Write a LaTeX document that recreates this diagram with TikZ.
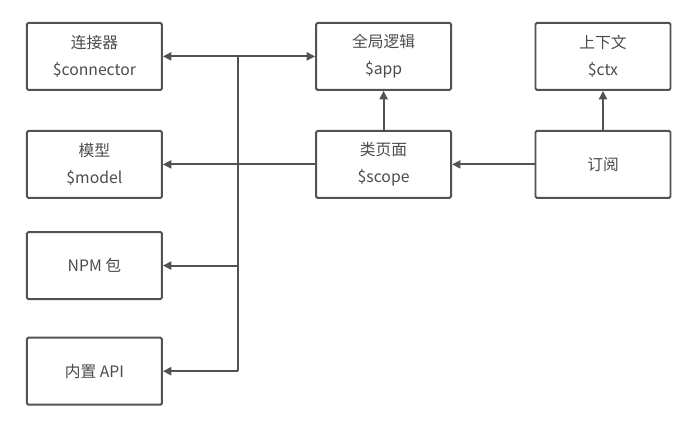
\documentclass[tikz,border=0pt]{standalone}
\usepackage{fontspec}
\setmainfont{Noto Sans CJK SC}
\usetikzlibrary{arrows.meta,positioning}

\begin{document}
\begin{tikzpicture}[
font=\fontsize{11.2pt}{19pt}\selectfont,
module/.style={draw=black!68, line width=1.4pt, rounded corners=1pt, fill=white, text=black!70, align=center, minimum height=1.675cm, minimum width=3.375cm, inner sep=2pt},
arrow/.style={-{Triangle[length=2.1mm,width=2mm]}, draw=black!68, line width=1.4pt},
link/.style={draw=black!68, line width=1.4pt}
]
\useasboundingbox (0,0) rectangle (17.35,-10.575);

\node[module] (conn) at (2.36,-1.41) {连接器\\\$connector};
\node[module] (model) at (2.36,-4.11) {模型\\\$model};
\node[module] (npm) at (2.36,-6.64) {NPM 包};
\node[module] (api) at (2.36,-9.28) {内置 API};

\node[module] (app) at (9.59,-1.41) {全局逻辑\\\$app};
\node[module] (scope) at (9.59,-4.11) {类页面\\\$scope};

\node[module] (ctx) at (15.075,-1.41) {上下文\\\$ctx};
\node[module] (sub) at (15.075,-4.11) {订阅};

% bus on the left side
\coordinate (hub) at (5.95,-1.41);
\coordinate (hubnpm) at (5.95,-6.64);
\coordinate (hubapi) at (5.95,-9.28);

\draw[link] (hub) -- (hubapi);
\draw[arrow] (hub) -- (conn.east);
\draw[arrow] (hub) -- (app.west);
\draw[arrow] (hubnpm) -- (npm.east);
\draw[arrow] (hubapi) -- (api.east);

\draw[arrow] (scope.west) -- (model.east);
\draw[arrow] (scope.north) -- (app.south);
\draw[arrow] (sub.west) -- (scope.east);
\draw[arrow] (sub.north) -- (ctx.south);
\end{tikzpicture}
\end{document}
